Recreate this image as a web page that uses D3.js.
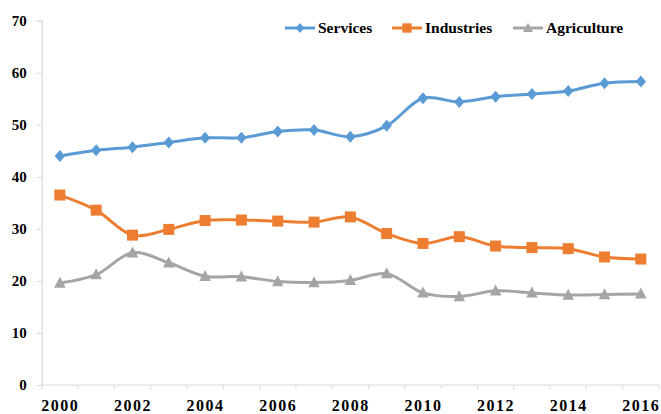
<!DOCTYPE html>
<html>
<head>
<meta charset="utf-8">
<script src="https://cdn.jsdelivr.net/npm/d3@7"></script>
<style>
  body { margin: 0; background: #fff; }
  svg { display: block; }
</style>
</head>
<body>
<div id="chart"></div>
<script>
var years = [2000, 2001, 2002, 2003, 2004, 2005, 2006, 2007, 2008,
             2009, 2010, 2011, 2012, 2013, 2014, 2015, 2016];
var services = [44.0, 45.1, 45.7, 46.6, 47.5, 47.5, 48.7, 49.0, 47.7,
                49.8, 55.1, 54.4, 55.4, 55.9, 56.5, 58.0, 58.3];
var industries = [36.5, 33.6, 28.8, 29.9, 31.6, 31.7, 31.5, 31.3, 32.3,
                  29.1, 27.2, 28.5, 26.7, 26.4, 26.2, 24.6, 24.2];
var agriculture = [19.6, 21.2, 25.4, 23.5, 20.9, 20.8, 19.9, 19.7, 20.1,
                   21.4, 17.7, 17.0, 18.1, 17.7, 17.3, 17.4, 17.5];
var yTicks = [0, 10, 20, 30, 40, 50, 60, 70];
var xLabels = [2000, 2002, 2004, 2006, 2008, 2010, 2012, 2014, 2016];

var series = [
  { name: "Services", values: services, color: "#5B9BD5", marker: "diamond" },
  { name: "Industries", values: industries, color: "#ED7D31", marker: "square" },
  { name: "Agriculture", values: agriculture, color: "#A5A5A5", marker: "triangle" }
];

var width = 661, height = 414;
var plotLeft = 41.7, plotRight = 659, plotTop = 20.7, plotBottom = 385;
var axisColor = "#d9d9d9";
var fontFam = "'Liberation Serif', 'Times New Roman', serif";

var svg = d3.select("#chart").append("svg")
  .attr("width", width)
  .attr("height", height);

var x = d3.scaleBand().domain(years).range([plotLeft, plotRight]).padding(0);
var y = d3.scaleLinear().domain([0, 70]).range([plotBottom, plotTop]);
var cx = function (yr) { return x(yr) + x.bandwidth() / 2; };

// y axis
var yAxis = svg.append("g")
  .attr("transform", "translate(" + plotLeft + ",0)")
  .call(d3.axisLeft(y).tickValues(yTicks).tickSize(5).tickPadding(10));
yAxis.select(".domain").attr("stroke", axisColor).attr("stroke-width", 1.2);
yAxis.selectAll(".tick line").attr("stroke", axisColor);
yAxis.selectAll(".tick text")
  .attr("fill", "#000")
  .style("font-family", fontFam)
  .style("font-weight", "bold")
  .style("font-size", "15px");

// x axis: line + tick marks on category boundaries
svg.append("line")
  .attr("x1", plotLeft).attr("x2", plotRight)
  .attr("y1", plotBottom).attr("y2", plotBottom)
  .attr("stroke", axisColor).attr("stroke-width", 1.2);
svg.append("g").selectAll("line")
  .data(years.concat(["end"]))
  .enter().append("line")
  .attr("x1", function (d) { return d === "end" ? plotRight : x(d); })
  .attr("x2", function (d) { return d === "end" ? plotRight : x(d); })
  .attr("y1", plotBottom).attr("y2", plotBottom + 4)
  .attr("stroke", axisColor);

svg.append("g").selectAll("text")
  .data(xLabels)
  .enter().append("text")
  .attr("x", function (d) { return cx(d) + 0.5; })
  .attr("y", 410.5)
  .attr("text-anchor", "middle")
  .style("font-family", fontFam)
  .style("font-weight", "bold")
  .style("font-size", "16px")
  .style("letter-spacing", "1.5px")
  .text(function (d) { return d; });

// lines
var line = d3.line()
  .x(function (d, i) { return cx(years[i]); })
  .y(function (d) { return y(d); })
  .curve(d3.curveCatmullRom.alpha(0.5));

function markerPath(type) {
  if (type === "diamond") return "M0,-6L5.2,0L0,6L-5.2,0Z";
  if (type === "square") return "M-5.5,-5.5H5.5V5.5H-5.5Z";
  return "M0,-6.3L5.8,4.7H-5.8Z";
}

series.forEach(function (s) {
  var g = svg.append("g");
  g.append("path")
    .datum(s.values)
    .attr("d", line)
    .attr("fill", "none")
    .attr("stroke", s.color)
    .attr("stroke-width", 3);
  g.selectAll("path.mk")
    .data(s.values)
    .enter().append("path")
    .attr("class", "mk")
    .attr("d", markerPath(s.marker))
    .attr("fill", s.color)
    .attr("transform", function (d, i) {
      return "translate(" + cx(years[i]) + "," + y(d) + ")";
    });
});

// legend
var legendX = [285, 392, 513];
var legend = svg.append("g").selectAll("g")
  .data(series)
  .enter().append("g")
  .attr("transform", function (d, i) { return "translate(" + legendX[i] + ",28)"; });
legend.append("line")
  .attr("x1", 0).attr("x2", 30)
  .attr("stroke", function (d) { return d.color; })
  .attr("stroke-width", 3);
legend.append("path")
  .attr("d", function (d) { return markerPath(d.marker); })
  .attr("transform", "translate(15,0) scale(0.85)")
  .attr("fill", function (d) { return d.color; });
legend.append("text")
  .attr("x", 33)
  .attr("dy", "0.35em")
  .style("font-family", fontFam)
  .style("font-weight", "bold")
  .style("font-size", "15.5px")
  .text(function (d) { return d.name; });
</script>
</body>
</html>
